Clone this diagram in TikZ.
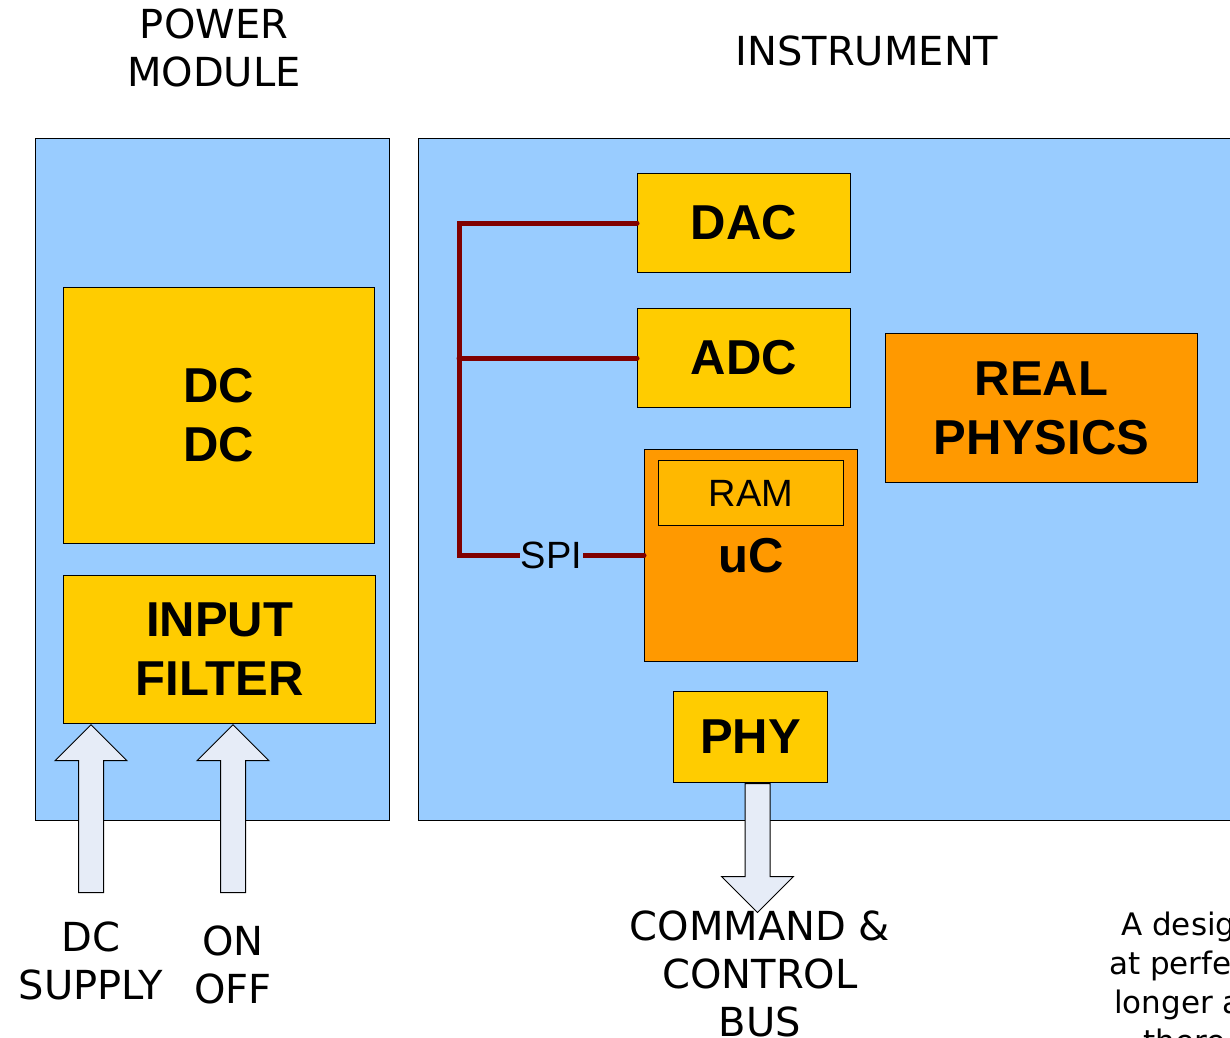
\documentclass[tikz,border=0pt]{standalone}
\usepackage{fontspec}
\setmainfont{Liberation Sans}
\newfontfamily\verdana{DejaVu Sans}
\usetikzlibrary{shapes.arrows}
\definecolor{paneblue}{HTML}{99CCFF}
\definecolor{chipyellow}{HTML}{FFCC00}
\definecolor{chiporange}{HTML}{FF9900}
\definecolor{ramorange}{HTML}{FFB800}
\definecolor{busred}{HTML}{800000}
\definecolor{arrowgray}{HTML}{E6ECF7}

\begin{document}
\begin{tikzpicture}[
  x=1pt, y=-1pt,
  pane/.style={rectangle, draw, fill=paneblue, line width=1pt, inner sep=0pt, anchor=north west},
  block/.style={rectangle, draw, fill=chipyellow, line width=1pt, inner sep=0pt, anchor=north west,
    align=center, font=\fontsize{49}{59}\selectfont\bfseries},
  hotblock/.style={block, fill=chiporange},
  caption/.style={align=center, font=\verdana\fontsize{40}{48}\selectfont},
  quote/.style={anchor=base west, inner sep=0pt, font=\verdana\fontsize{31}{39}\selectfont},
  bus/.style={draw=busred, line width=5pt, line cap=round},
  fatup/.style={single arrow, draw, fill=arrowgray, line width=1pt, inner sep=12pt,
    single arrow head extend=23.5pt, single arrow tip angle=90,
    shape border rotate=90, anchor=tip},
  fatdown/.style={fatup, shape border rotate=270, anchor=tail}
]
\useasboundingbox (0,0) rectangle (1230,1037);
\clip (0,0) rectangle (1230,1037);

% panels
\node [pane, minimum width=354pt, minimum height=682pt] (power) at (35,138) {};
\node [pane, minimum width=830pt, minimum height=682pt] (instr) at (418,138) {};
\node [caption] (powertitle) at (214,48) {POWER\\MODULE};
\node [caption] (instrtitle) at (867,51) {INSTRUMENT};

% power module
\node [block, minimum width=311pt, minimum height=256pt] (dcdc) at (63,287) {DC\\DC};
\node [block, minimum width=312pt, minimum height=148pt] (filter) at (63,575) {INPUT\\FILTER};
\node [fatup, minimum height=168pt] (supplyin) at ([xshift=28pt]filter.south west) {};
\node [fatup, minimum height=168pt] (onoffin) at ([xshift=170pt]filter.south west) {};
\node [caption] (supplylabel) at (91,961) {DC\\SUPPLY};
\node [caption] (onofflabel) at (233,965) {ON\\OFF};

% instrument
\node [block, minimum width=213pt, minimum height=99pt] (dac) at (637,173) {DAC};
\node [block, minimum width=213pt, minimum height=99pt] (adc) at (637,308) {ADC};
\node [hotblock, minimum width=312pt, minimum height=149pt] (physics) at (885,333) {REAL\\PHYSICS};
\node [hotblock, minimum width=213pt, minimum height=212pt] (uc) at (644,449) {uC};
\node [rectangle, draw, fill=ramorange, line width=1pt, inner sep=0pt, anchor=north west,
  minimum width=185pt, minimum height=65pt, font=\fontsize{38}{46}\selectfont] (ram) at (658,460) {RAM};
\node [block, minimum width=154pt, minimum height=91pt] (phy) at (673,691) {PHY};
\node [fatdown, minimum height=129pt] (busout) at ([xshift=7pt]phy.south) {};
\node [caption] (buslabel) at (760,974) {COMMAND \&\\CONTROL\\BUS};

% SPI bus
\coordinate (spine) at (459,0);
\draw [bus] (dac.west) -- (dac.west -| spine) -- (uc.west -| spine)
  -- node [fill=paneblue, inner sep=1pt, font=\fontsize{38}{46}\selectfont] (spi) {SPI} (uc.west);
\draw [bus] (adc.west) -- (adc.west -| spine);

% note, cut by the page edge
\node [quote] (quote1) at (1121,935) {A designer knows he has arrived};
\node [quote] (quote2) at (1109,974) {at perfection not when there is no};
\node [quote] (quote3) at (1114,1013) {longer anything to add, but when};
\node [quote] (quote4) at (1143,1052) {there is no longer anything to take away};
\end{tikzpicture}
\end{document}
